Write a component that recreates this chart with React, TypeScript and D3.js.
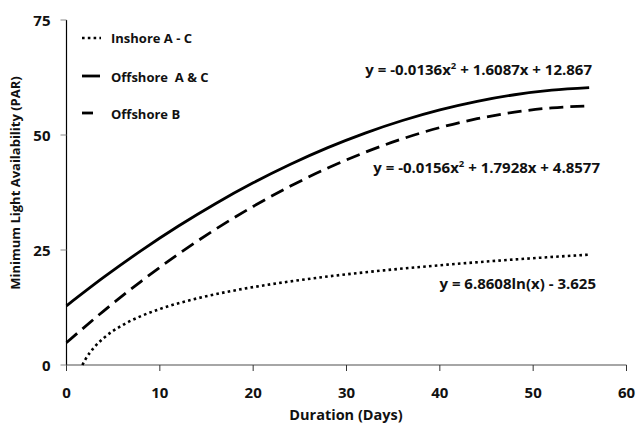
import * as d3 from "d3";

const W = 636;
const H = 426;

// x ticks / y ticks
const X_TICKS = [0, 10, 20, 30, 40, 50, 60];
const Y_TICKS = [0, 25, 50, 75];

// Offshore A & C (solid)
const offAC_x = [0, 4, 8, 12, 16, 20, 24, 28, 32, 36, 40, 44, 48, 52, 56];
const offAC_y = [12.87, 19.08, 24.87, 30.21, 35.12, 39.6, 43.64, 47.25, 50.42, 53.15, 55.46, 57.32, 58.75, 59.75, 60.3];

// Offshore B (dashed)
const offB_x = [0, 4, 8, 12, 16, 20, 24, 28, 32, 36, 40, 44, 48, 52, 56];
const offB_y = [4.86, 11.78, 18.2, 24.13, 29.55, 34.47, 38.9, 42.83, 46.25, 49.18, 51.61, 53.54, 54.97, 55.9, 56.33];

// Inshore A - C (dotted)
const inA_x = [1.7, 2, 3, 4, 6, 8, 10, 14, 18, 22, 28, 34, 40, 48, 56];
const inA_y = [0, 1.13, 3.91, 5.89, 8.67, 10.64, 12.17, 14.48, 16.21, 17.58, 19.24, 20.57, 21.68, 22.94, 23.99];

const LEGEND = ["Inshore A - C", "Offshore  A & C", "Offshore B"];

const FONT = "'Open Sans', sans-serif";

export default function App() {
  const x = d3.scaleLinear().domain([0, 60]).range([66.5, 626.5]);
  const y = d3.scaleLinear().domain([0, 75]).range([365, 20]);

  const line = d3
    .line<[number, number]>()
    .x((d) => x(d[0]))
    .y((d) => y(d[1]))
    .curve(d3.curveMonotoneX);

  const zip = (a: number[], b: number[]) => a.map((v, i) => [v, b[i]] as [number, number]);

  const series = [
    { pts: zip(inA_x, inA_y), dash: "2.6 3.2", width: 2.6 },
    { pts: zip(offAC_x, offAC_y), dash: undefined, width: 2.8 },
    { pts: zip(offB_x, offB_y), dash: "14 7", width: 2.8 },
  ];

  return (
    <svg
      width={W}
      height={H}
      style={{ position: "absolute", left: 0, top: 0, background: "#fff" }}
      fontFamily={FONT}
      fontWeight={700}
    >
      {/* x axis */}
      <line x1={x(0)} x2={x(60)} y1={y(0)} y2={y(0)} stroke="#888" strokeWidth={1.5} />
      {X_TICKS.map((t) => (
        <g key={t}>
          <line x1={x(t)} x2={x(t)} y1={y(0)} y2={y(0) + 6} stroke="#333" strokeWidth={1} />
          <text x={x(t)} y={y(0) + 33} textAnchor="middle" fontSize={15} fill="#111">
            {t}
          </text>
        </g>
      ))}
      {/* y axis */}
      <line x1={x(0)} x2={x(0)} y1={y(0)} y2={y(75)} stroke="#000" strokeWidth={1.2} />
      {Y_TICKS.map((t) => (
        <g key={t}>
          <line x1={x(0) - 6} x2={x(0)} y1={y(t)} y2={y(t)} stroke="#888" strokeWidth={1} />
          <text x={x(0) - 16} y={y(t) + 5.5} textAnchor="end" fontSize={15} fill="#111">
            {t}
          </text>
        </g>
      ))}

      <text x={346} y={420} textAnchor="middle" fontSize={14.5} fill="#111">
        Duration (Days)
      </text>
      <text
        transform={`translate(20,183) rotate(-90)`}
        textAnchor="middle"
        fontSize={13}
        fill="#111"
      >
        Minimum Light Availability (PAR)
      </text>

      {series.map((s, i) => (
        <path
          key={i}
          d={line(s.pts) || ""}
          fill="none"
          stroke="#000"
          strokeWidth={s.width}
          strokeDasharray={s.dash}
        />
      ))}

      {/* legend */}
      <line x1={82} x2={101} y1={38} y2={38} stroke="#000" strokeWidth={2.6} strokeDasharray="2.6 3.2" />
      <line x1={82} x2={100} y1={76} y2={76} stroke="#000" strokeWidth={2.8} />
      <line x1={82} x2={93} y1={113} y2={113} stroke="#000" strokeWidth={2.8} />
      {LEGEND.map((l, i) => (
        <text key={l} x={111} y={[43, 82, 119][i]} fontSize={13} fill="#111" style={{ whiteSpace: "pre" }}>
          {l}
        </text>
      ))}

      {/* equations */}
      <text x={592} y={75} textAnchor="end" fontSize={15} fill="#111">
        y = -0.0136x<tspan dy={-6} fontSize={9.5}>2</tspan>
        <tspan dy={6}> + 1.6087x + 12.867</tspan>
      </text>
      <text x={600} y={173} textAnchor="end" fontSize={15} fill="#111">
        y = -0.0156x<tspan dy={-6} fontSize={9.5}>2</tspan>
        <tspan dy={6}> + 1.7928x + 4.8577</tspan>
      </text>
      <text x={596} y={289} textAnchor="end" fontSize={15} fill="#111">
        y = 6.8608ln(x) - 3.625
      </text>
    </svg>
  );
}
